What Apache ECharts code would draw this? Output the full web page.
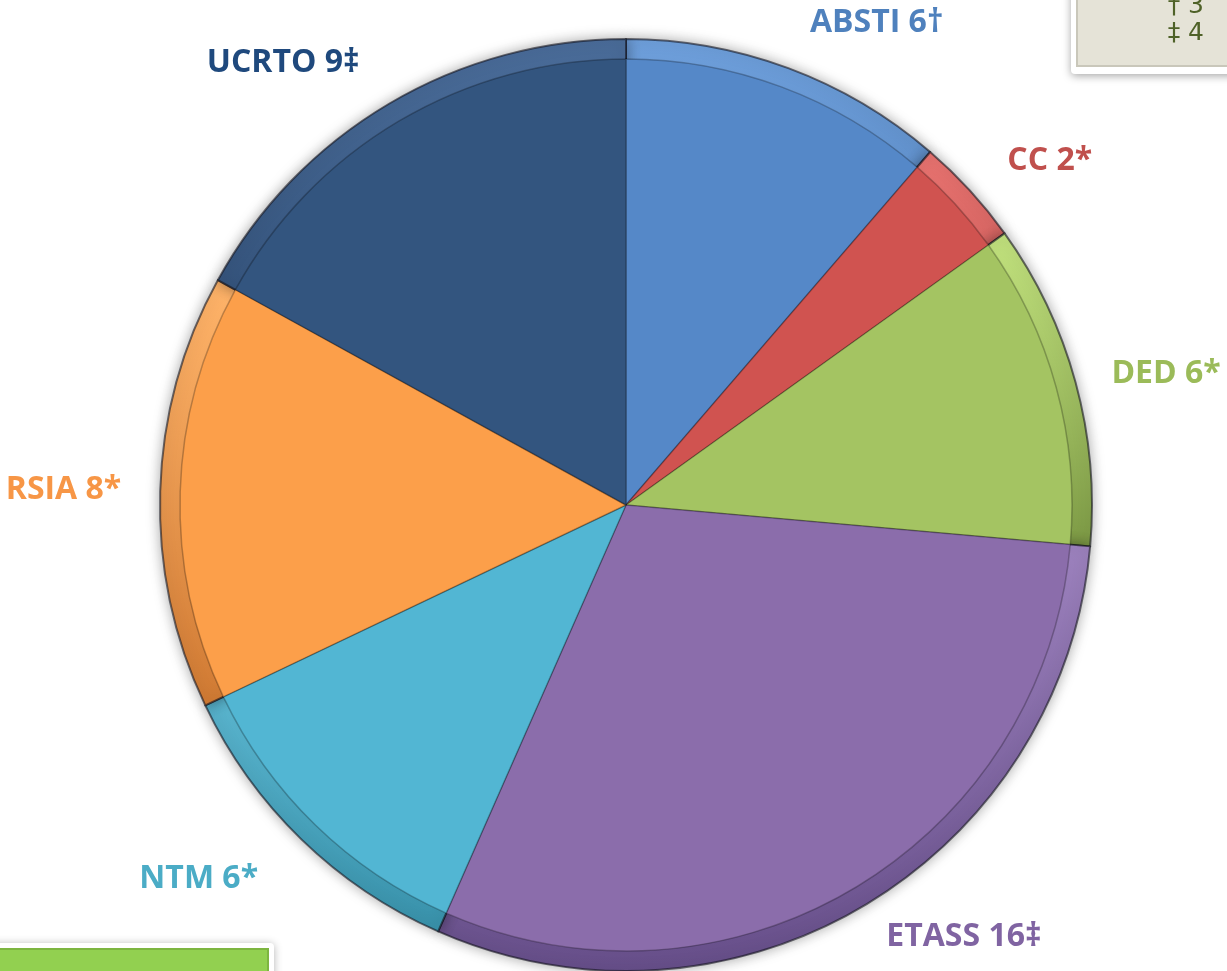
<!DOCTYPE html>
<html>
<head>
    <meta charset="utf-8"/>
    <title>ECharts</title>
    <script src="https://cdn.jsdelivr.net/npm/echarts@6/dist/echarts.min.js"></script>
    <style>
        html, body { margin: 0; padding: 0; background: #fff; }
    </style>
</head>
<body>
<div id="main" style="width: 1227px;height:971px;"></div>
<script type="text/javascript">
    // categories, values and significance marks
    var categories = ['ABSTI', 'CC', 'DED', 'ETASS', 'NTM', 'RSIA', 'UCRTO'];
    var values = [6, 2, 6, 16, 6, 8, 9];
    var marks = ['\u2020', '*', '*', '\u2021', '*', '*', '\u2021'];
    // slice fill colours, rim shades and label colours
    var sliceColors = ['#5588C8', '#D05350', '#A4C462', '#8B6DAB', '#52B6D3', '#FC9F4A', '#33557F'];
    var rimLight = ['#6E9FDB', '#E87370', '#C2E27E', '#A186C2', '#74D0EA', '#FFB46A', '#4A6C99'];
    var rimDark = ['#3E6BA3', '#A63F3C', '#7D9A45', '#664E89', '#3891AA', '#D07A33', '#223E62'];
    var labelColors = ['#4F81BD', '#C0504D', '#9BBB59', '#8064A2', '#4BACC6', '#F79646', '#1F497D'];
    // distance of each label from the pie edge
    var labelGaps = [48, 44, 32, 36, 55, 34, 48];
    // key box text
    var keyLines = ['\u2020 3', '\u2021 4'];

    var myChart = echarts.init(document.getElementById('main'));

    var outerData = [];
    var innerData = [];
    for (var i = 0; i < categories.length; i++) {
        outerData.push({
            name: categories[i],
            value: values[i],
            mark: marks[i],
            itemStyle: {
                color: new echarts.graphic.LinearGradient(0, 0, 0, 1, [
                    {offset: 0, color: rimLight[i]},
                    {offset: 1, color: rimDark[i]}
                ])
            },
            label: {color: labelColors[i]},
            labelLine: {length: labelGaps[i], length2: 0}
        });
        innerData.push({
            name: categories[i],
            value: values[i],
            itemStyle: {color: sliceColors[i]}
        });
    }

    var option = {
        animation: false,
        graphic: [
            {
                type: 'rect',
                shape: {x: 1071, y: -20, width: 180, height: 94, r: 4},
                style: {fill: '#ffffff', shadowBlur: 8, shadowColor: 'rgba(0,0,0,0.35)', shadowOffsetY: 2}
            },
            {
                type: 'rect',
                shape: {x: 1077, y: -20, width: 170, height: 86},
                style: {fill: '#E5E3D7', stroke: '#C9C7BA', lineWidth: 2}
            },
            {
                type: 'text',
                style: {
                    x: 1204, y: 6, text: keyLines[0], align: 'right', verticalAlign: 'middle',
                    fill: '#4F6228', font: '25px "Liberation Sans Narrow", "DejaVu Sans", sans-serif'
                }
            },
            {
                type: 'text',
                style: {
                    x: 1204, y: 33, text: keyLines[1], align: 'right', verticalAlign: 'middle',
                    fill: '#4F6228', font: '25px "Liberation Sans Narrow", "DejaVu Sans", sans-serif'
                }
            },
            {
                type: 'rect',
                shape: {x: -10, y: 943, width: 284, height: 40, r: 4},
                style: {fill: '#ffffff', shadowBlur: 8, shadowColor: 'rgba(0,0,0,0.3)', shadowOffsetY: 1}
            },
            {
                type: 'rect',
                shape: {x: -10, y: 949, width: 278, height: 30},
                style: {fill: '#92D050', stroke: '#7DB540', lineWidth: 2}
            }
        ],
        series: [
            {
                type: 'pie',
                center: [626, 505],
                radius: [0, 466],
                startAngle: 90,
                clockwise: true,
                avoidLabelOverlap: false,
                data: outerData,
                itemStyle: {
                    borderColor: 'rgba(20,20,30,0.6)',
                    borderWidth: 2,
                    shadowBlur: 14,
                    shadowColor: 'rgba(0,0,0,0.35)'
                },
                label: {
                    show: true,
                    position: 'outside',
                    formatter: function (p) { return p.name + ' ' + p.value + p.data.mark; },
                    fontFamily: '"Open Sans", sans-serif',
                    fontWeight: 'bold',
                    fontSize: 32
                },
                labelLine: {show: false},
                emphasis: {disabled: true}
            },
            {
                type: 'pie',
                center: [626, 505],
                radius: [0, 446],
                startAngle: 90,
                clockwise: true,
                silent: true,
                data: innerData,
                itemStyle: {
                    borderColor: 'rgba(0,0,0,0.25)',
                    borderWidth: 1.5
                },
                label: {show: false},
                labelLine: {show: false},
                emphasis: {disabled: true}
            }
        ]
    };

    myChart.setOption(option);
</script>
</body>
</html>
